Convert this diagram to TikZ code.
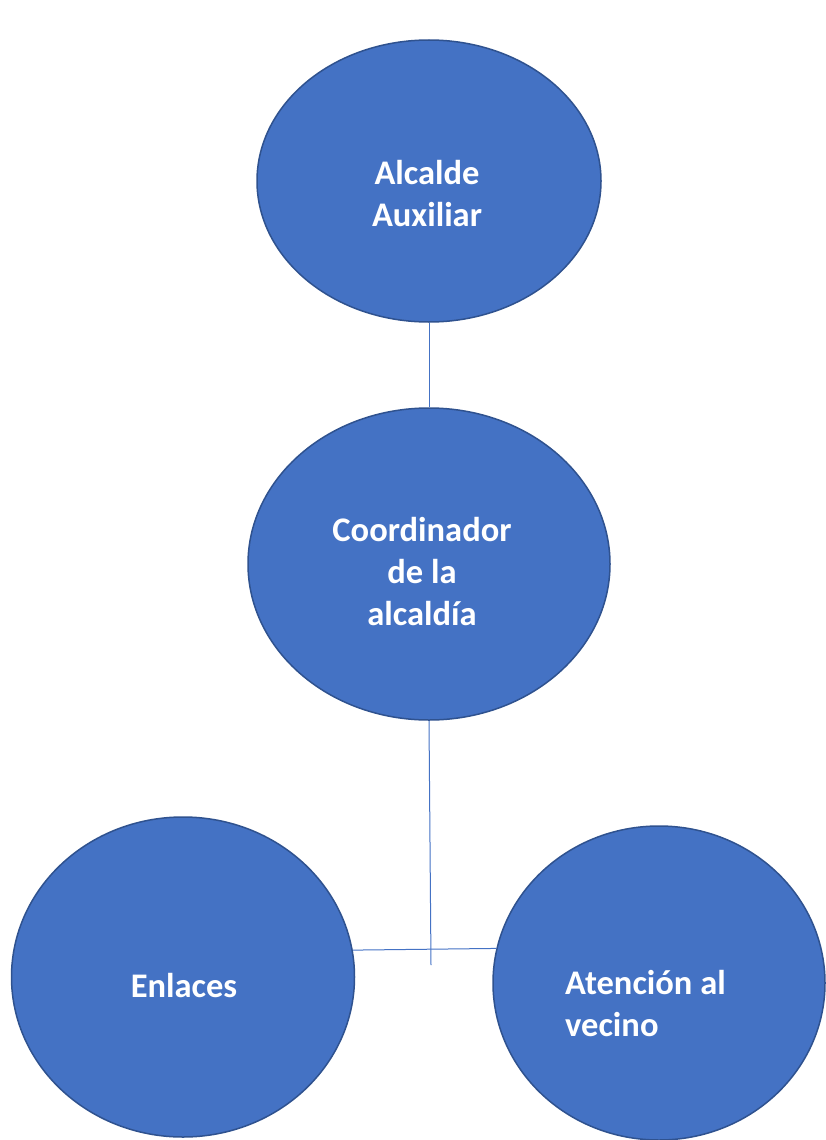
\documentclass[tikz,border=0pt]{standalone}
\usepackage{fontspec}
\setmainfont{Carlito}
\usetikzlibrary{shapes.geometric}
\definecolor{cargo}{HTML}{4472C4}
\definecolor{cargoborde}{HTML}{2F528F}
\begin{document}
\begin{tikzpicture}[x=1pt,y=-1pt,
  cargo/.style={ellipse,draw=cargoborde,fill=cargo,line width=1.5pt,inner sep=0pt},
  rotulo/.style={inner sep=0pt,text=white,font=\fontsize{34.5}{42}\selectfont\bfseries},
  linea/.style={draw=cargo,line width=1pt}]
\useasboundingbox (0,0) rectangle (825,1140);
\node[cargo,minimum width=344,minimum height=282] (alcalde) at (429,181){};
\node[cargo,minimum width=362,minimum height=312] (coord) at (429,564){};
\node[cargo,minimum width=343,minimum height=320] (enlaces) at (183,977){};
\node[cargo,minimum width=332,minimum height=314] (vecino) at (659,983){};
\node[rotulo,align=center] (alcaldetxt) at (427,194){Alcalde\\Auxiliar};
\node[rotulo,align=center] (coordtxt) at (422,572){Coordinador\\de la\\alcaldía};
\node[rotulo] (enlacestxt) at (184,986){Enlaces};
\node[rotulo,align=left,anchor=west] (vecinotxt) at (565,1004){Atención al\\vecino};
\coordinate (pie) at (431,965);
\draw[linea] (alcalde.south) -- (coord.north);
\draw[linea] (coord.south) -- (pie);
\draw[linea] (enlaces.9) -- (vecino.168);
\end{tikzpicture}
\end{document}
